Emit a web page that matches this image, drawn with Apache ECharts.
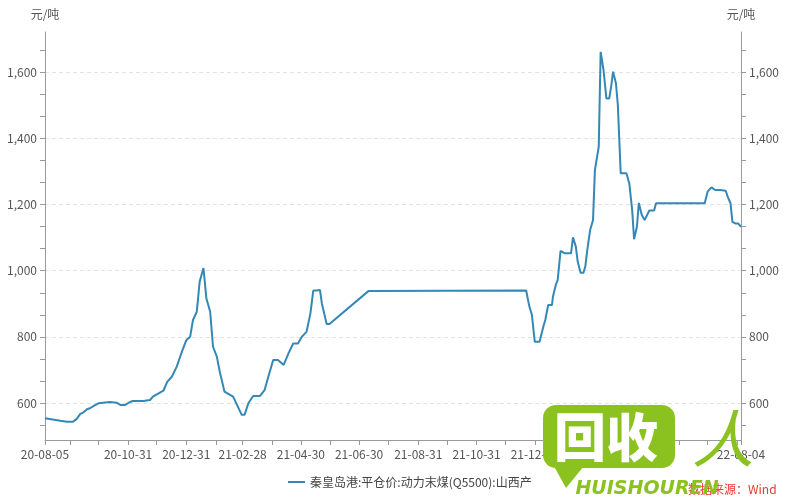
<!DOCTYPE html>
<html>
<head>
<meta charset="utf-8">
<script src="https://cdn.jsdelivr.net/npm/echarts@6/dist/echarts.min.js"></script>
<style>html,body{margin:0;padding:0;background:#fff}#c{width:800px;height:500px}</style>
</head>
<body>
<div id="c"></div>
<script>
const seriesName = '秦皇岛港:平仓价:动力末煤(Q5500):山西产';
const unitName = '元/吨';
const dates = ['2020-08-05','2020-08-21','2020-08-28','2020-09-03','2020-09-07','2020-09-11','2020-09-14','2020-09-18','2020-09-21','2020-09-26','2020-09-30',
'2020-10-12','2020-10-19','2020-10-23','2020-10-28','2020-11-02','2020-11-05','2020-11-16','2020-11-23','2020-11-26','2020-12-02','2020-12-07','2020-12-11','2020-12-16','2020-12-21','2020-12-26','2020-12-31',
'2021-01-04','2021-01-07','2021-01-11','2021-01-14','2021-01-18','2021-01-21','2021-01-25','2021-01-28','2021-02-01','2021-02-04','2021-02-09','2021-02-18','2021-02-23','2021-02-27','2021-03-02','2021-03-06','2021-03-11','2021-03-18','2021-03-23','2021-03-27',
'2021-04-01','2021-04-06','2021-04-12','2021-04-17','2021-04-22','2021-04-27','2021-05-01','2021-05-06','2021-05-10','2021-05-13','2021-05-17','2021-05-20','2021-05-22','2021-05-24','2021-05-27','2021-05-30',
'2021-07-10','2021-12-22',
'2021-12-25','2021-12-28','2021-12-31','2022-01-05','2022-01-09','2022-01-11','2022-01-14','2022-01-18','2022-01-19','2022-01-20','2022-01-22','2022-01-24','2022-01-27','2022-01-29','2022-01-31',
'2022-02-07','2022-02-09','2022-02-12','2022-02-14','2022-02-17','2022-02-20','2022-02-22','2022-02-24','2022-02-27','2022-03-02','2022-03-04','2022-03-08','2022-03-10','2022-03-13','2022-03-16','2022-03-19','2022-03-21','2022-03-23','2022-03-26','2022-03-28',
'2022-03-31','2022-04-06','2022-04-09','2022-04-12','2022-04-14','2022-04-17','2022-04-19','2022-04-22','2022-04-25','2022-04-27','2022-04-30','2022-05-05','2022-05-07',
'2022-06-27','2022-06-30','2022-07-04','2022-07-08','2022-07-13','2022-07-15','2022-07-19','2022-07-21','2022-07-24','2022-07-26','2022-07-29','2022-08-01','2022-08-04'];
const values = [554,546,543,543,551,567,571,581,584,593,599,
603,601,594,594,603,606,606,609,619,629,637,664,680,710,752,790,
800,851,876,967,1008,917,876,770,740,695,634,619,589,564,564,599,621,621,639,680,
730,730,715,750,780,780,800,816,871,940,940,942,901,876,839,839,
939,940,
896,866,785,785,831,851,896,896,921,921,957,972,1060,1060,1053,
1053,1101,1073,1027,994,994,1014,1063,1123,1153,1305,1375,1662,1607,1521,1521,1557,1602,1567,1501,
1295,1295,1264,1184,1095,1133,1205,1169,1153,1153,1182,1182,1204,
1204,1239,1252,1244,1244,1246,1242,1224,1204,1148,1143,1143,1133];
const xTickLabels = ['2020-08-05','2020-10-31','2020-12-31','2021-02-28','2021-04-30','2021-06-30','2021-08-31','2021-10-31','2021-12-31','2022-02-28','2022-04-30','2022-08-04'];
const xStart = '2020-08-05', xEnd = '2022-08-04';
const yLabels = [600, 800, 1000, 1200, 1400, 1600];
const yMin = 488, yMax = 1722;

function ts(s){ const p = s.split('-').map(Number); return Date.UTC(p[0], p[1]-1, p[2]); }
function pad(n){ return (n<10?'0':'')+n; }
function fmt(v){ const d = new Date(v); return pad(d.getUTCFullYear()%100)+'-'+pad(d.getUTCMonth()+1)+'-'+pad(d.getUTCDate()); }

// month-end ticks
const xTicks = [ts(xStart)];
for (let y = 2020, m = 8; y < 2022 || m <= 7; ) {
  xTicks.push(Date.UTC(y, m, 0));
  m++; if (m > 12) { m = 1; y++; }
}
xTicks.push(ts(xEnd));
const yTicks = [];
for (let k = -3; k <= 20; k++) { const v = yLabels[0] + k * (yLabels[1]-yLabels[0]) / 3; if (v >= yMin && v <= yMax) yTicks.push(v); }

const data = dates.map((d, i) => [ts(d), values[i]]);
const axisColor = '#9a9a9a';
const textColor = '#555';
const font = '"Noto Sans CJK SC", "Noto Sans", sans-serif';
const green = '#8cc21f';

function yAx(pos, showSplit, hidden) {
  return {
    type: 'value', position: pos, min: yMin, max: yMax,
    name: hidden ? '' : unitName, nameLocation: 'end', nameGap: 12,
    nameTextStyle: { color: textColor, fontSize: 12, fontFamily: font, align: 'center' },
    axisLine: { show: !hidden, lineStyle: { color: axisColor, width: 1 } },
    axisTick: { show: !hidden, length: 5, customValues: hidden ? yLabels : yTicks, lineStyle: { color: axisColor } },
    axisLabel: { show: !hidden, customValues: yLabels, color: textColor, fontSize: 12, fontFamily: font, margin: 8,
      formatter: v => v.toLocaleString('en-US') },
    splitLine: { show: showSplit, lineStyle: { color: '#e3e3e3', type: [4, 3], width: 1 } }
  };
}

const chart = echarts.init(document.getElementById('c'), null, { renderer: 'canvas' });
chart.setOption({
  animation: false,
  backgroundColor: '#fff',
  grid: { left: 45, right: 59, top: 32, bottom: 60, containLabel: false },
  legend: {
    data: [{ name: seriesName, icon: 'rect' }], left: 283, top: 471, itemWidth: 17, itemHeight: 2, itemGap: 10,
    textStyle: { color: '#444', fontSize: 12, fontFamily: font }
  },
  xAxis: {
    type: 'value', min: ts(xStart), max: ts(xEnd), scale: true,
    axisLine: { lineStyle: { color: axisColor, width: 1 } },
    axisTick: { show: true, length: 5, customValues: xTicks, lineStyle: { color: axisColor } },
    axisLabel: { customValues: xTickLabels.map(ts), color: textColor, fontSize: 12, fontFamily: font, margin: 8,
      formatter: v => fmt(v), hideOverlap: false },
    splitLine: { show: false }
  },
  yAxis: [yAx('left', false, false), yAx('right', false, false), yAx('left', true, true)],
  series: [{
    name: seriesName, type: 'line', data: data, symbol: 'none', showSymbol: false,
    lineStyle: { color: '#3488b5', width: 2 }, itemStyle: { color: '#3488b5' }, z: 3
  }],
  graphic: [
    { type: 'text', left: 688, top: 483, z: 50, zlevel: 1, style: { text: '数据来源：Wind', fill: '#e53935', fontSize: 12, fontFamily: font } },
    { type: 'rect', z: 100, zlevel: 1, shape: { x: 543, y: 405, width: 132, height: 63, r: 13 }, style: { fill: green } },
    { type: 'polygon', z: 100, zlevel: 1, shape: { points: [[545, 450], [566, 488], [584, 466]] }, style: { fill: green } },
    { type: 'text', z: 101, zlevel: 1, x: 606, y: 437, style: { text: '回收', fill: '#fff', fontSize: 52, fontWeight: 900, fontFamily: font, align: 'center', verticalAlign: 'middle' } },
    { type: 'text', z: 101, zlevel: 1, x: 723, y: 438, style: { text: '人', fill: green, fontSize: 62, fontWeight: 'normal', fontStyle: 'italic', fontFamily: font, align: 'center', verticalAlign: 'middle' } },
    { type: 'text', z: 101, zlevel: 1, x: 647, y: 489, style: { text: 'HUISHOUREN', fill: green, fontSize: 19, fontWeight: 'bold', fontStyle: 'italic', fontFamily: '"DejaVu Sans", sans-serif', align: 'center', verticalAlign: 'middle' } }
  ]
});
</script>
</body>
</html>
